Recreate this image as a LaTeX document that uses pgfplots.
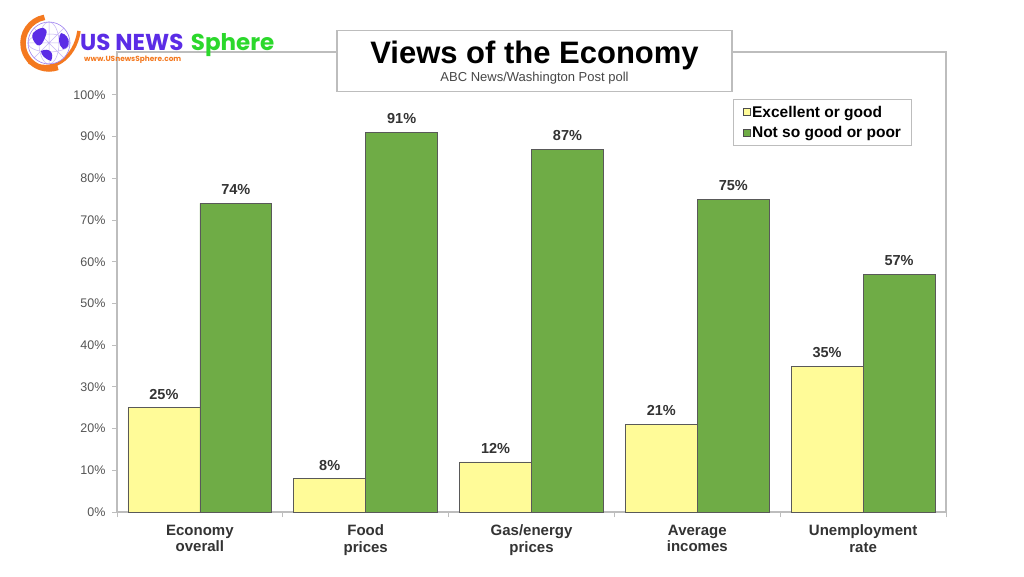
\documentclass[border=0pt]{standalone}
\usepackage{pgfplots}
\pgfplotsset{compat=1.18}
\usepackage{fontspec}
\setmainfont{Liberation Sans}
\newfontfamily\logofont{Poppins}
\definecolor{ylw}{HTML}{FFFB98}
\definecolor{grn}{HTML}{6FAC46}
\definecolor{frm}{HTML}{BDBDBD}
\definecolor{ticktxt}{HTML}{555555}
\definecolor{cattxt}{HTML}{333333}
\definecolor{logopurple}{HTML}{5B2CE6}
\definecolor{logogreen}{HTML}{2BD82B}
\definecolor{logoorange}{HTML}{F47920}
\begin{document}
\begin{tikzpicture}[x=1pt,y=1pt]
\useasboundingbox (0,0) rectangle (1024,576);
\fill[white] (0,0) rectangle (1024,576);
\begin{axis}[
  at={(117pt,64pt)}, anchor=south west,
  scale only axis, width=829pt, height=460pt,
  xmin=-0.5, xmax=4.5, ymin=0, ymax=110.3,
  ybar,
  axis line style={draw=frm, line width=1.2pt},
  ytick={0,10,...,100},
  yticklabel={\pgfmathprintnumber{\tick}\%},
  /pgf/number format/assume math mode=true,
  ytick pos=left, xtick pos=bottom,
  tick align=outside,
  major tick length=5pt, minor tick length=5pt,
  tick style={draw=frm, line width=1pt},
  yticklabel style={font=\fontsize{12.5}{14}\selectfont, color=ticktxt, xshift=-3pt},
  xtick={0,1,2,3,4},
  xticklabels={{Economy\\overall},{Food\\prices},{Gas/energy\\prices},{Average\\incomes},{Unemployment\\rate}},
  xticklabel style={font=\bfseries\fontsize{15}{16.5}\selectfont, color=cattxt, align=center, yshift=-4.5pt},
  major x tick style={draw=none},
  minor xtick={-0.5,0.5,...,4.5},
  bar width=0.434,
  nodes near coords={\pgfmathprintnumber{\pgfplotspointmeta}\%},
  nodes near coords style={font=\bfseries\fontsize{14.5}{16}\selectfont, color=cattxt, inner sep=0pt, anchor=south, yshift=8pt},
  legend style={at={(0.959,0.898)}, anchor=north east, draw=frm, line width=1pt,
    font=\bfseries\fontsize{15.5}{17}\selectfont, row sep=4pt, inner xsep=9pt, inner ysep=4.5pt,
    nodes={inner xsep=1.5pt}},
  legend cell align=left,
  legend image code/.code={\draw[#1, draw=black!70, line width=0.6pt] (0pt,-3.5pt) rectangle (7pt,3.5pt);},
]
\addplot[bar shift=-0.217, fill=ylw, draw=black!65, line width=0.8pt] coordinates {(0,25) (1,8) (2,12) (3,21) (4,35)};
\addplot[bar shift=0.217, fill=grn, draw=black!65, line width=0.8pt] coordinates {(0,74) (1,91) (2,87) (3,75) (4,57)};
\legend{Excellent or good, Not so good or poor}
\end{axis}
% title box
\node[draw=frm, line width=1.2pt, fill=white, minimum width=395pt, minimum height=61pt] at (534.5,515) {};
\node[font=\bfseries\fontsize{31}{34}\selectfont] at (534.5,521) {Views of the Economy};
\node[font=\fontsize{13}{15}\selectfont, color=black!72] at (534.5,497.5) {ABC News/Washington Post poll};
% logo
\begin{scope}[shift={(49,533)}]
  \draw[logoorange, line width=5.5pt] (100:26) arc (100:290:26);
  \draw[logoorange, line width=3.5pt] (-20,-19) .. controls (2,-32) and (26,-16) .. (30,12);
  \fill[white] (0,0) circle (21);
  \draw[logopurple!35, line width=0.5pt] (0,21) -- (0,-21) (-21,0) -- (21,0)
     (0,0) ellipse (10 and 21) (0,0) ellipse (21 and 9)
     (-15,15) -- (15,-15) (-15,-15) -- (15,15);
  \fill[logopurple] (-16,10) .. controls (-8,18) and (0,16) .. (-3,8) .. controls (-6,0) and (-8,-4) .. (-12,-2) .. controls (-16,2) and (-18,6) .. (-16,10);
  \fill[logopurple] (-8,-8) .. controls (0,-4) and (6,-10) .. (2,-18) .. controls (-4,-16) and (-8,-12) .. (-8,-8);
  \fill[logopurple] (12,10) .. controls (22,8) and (22,-6) .. (14,-6) .. controls (9,-2) and (9,6) .. (12,10);
  \draw[logopurple!60, line width=0.6pt] (0,0) circle (21);
\end{scope}
\node[anchor=base west, inner sep=0, font=\logofont\bfseries\fontsize{23}{26}\selectfont, color=logopurple] (us) at (80,525) {US NEWS};
\node[anchor=base west, inner sep=0, font=\logofont\bfseries\fontsize{23}{26}\selectfont, color=logogreen] at ([xshift=7pt]us.base east) {Sphere};
\node[anchor=base west, inner sep=0, font=\logofont\bfseries\fontsize{7.4}{9}\selectfont, color=logoorange] at (84,514) {www.USnewsSphere.com};
\end{tikzpicture}
\end{document}
